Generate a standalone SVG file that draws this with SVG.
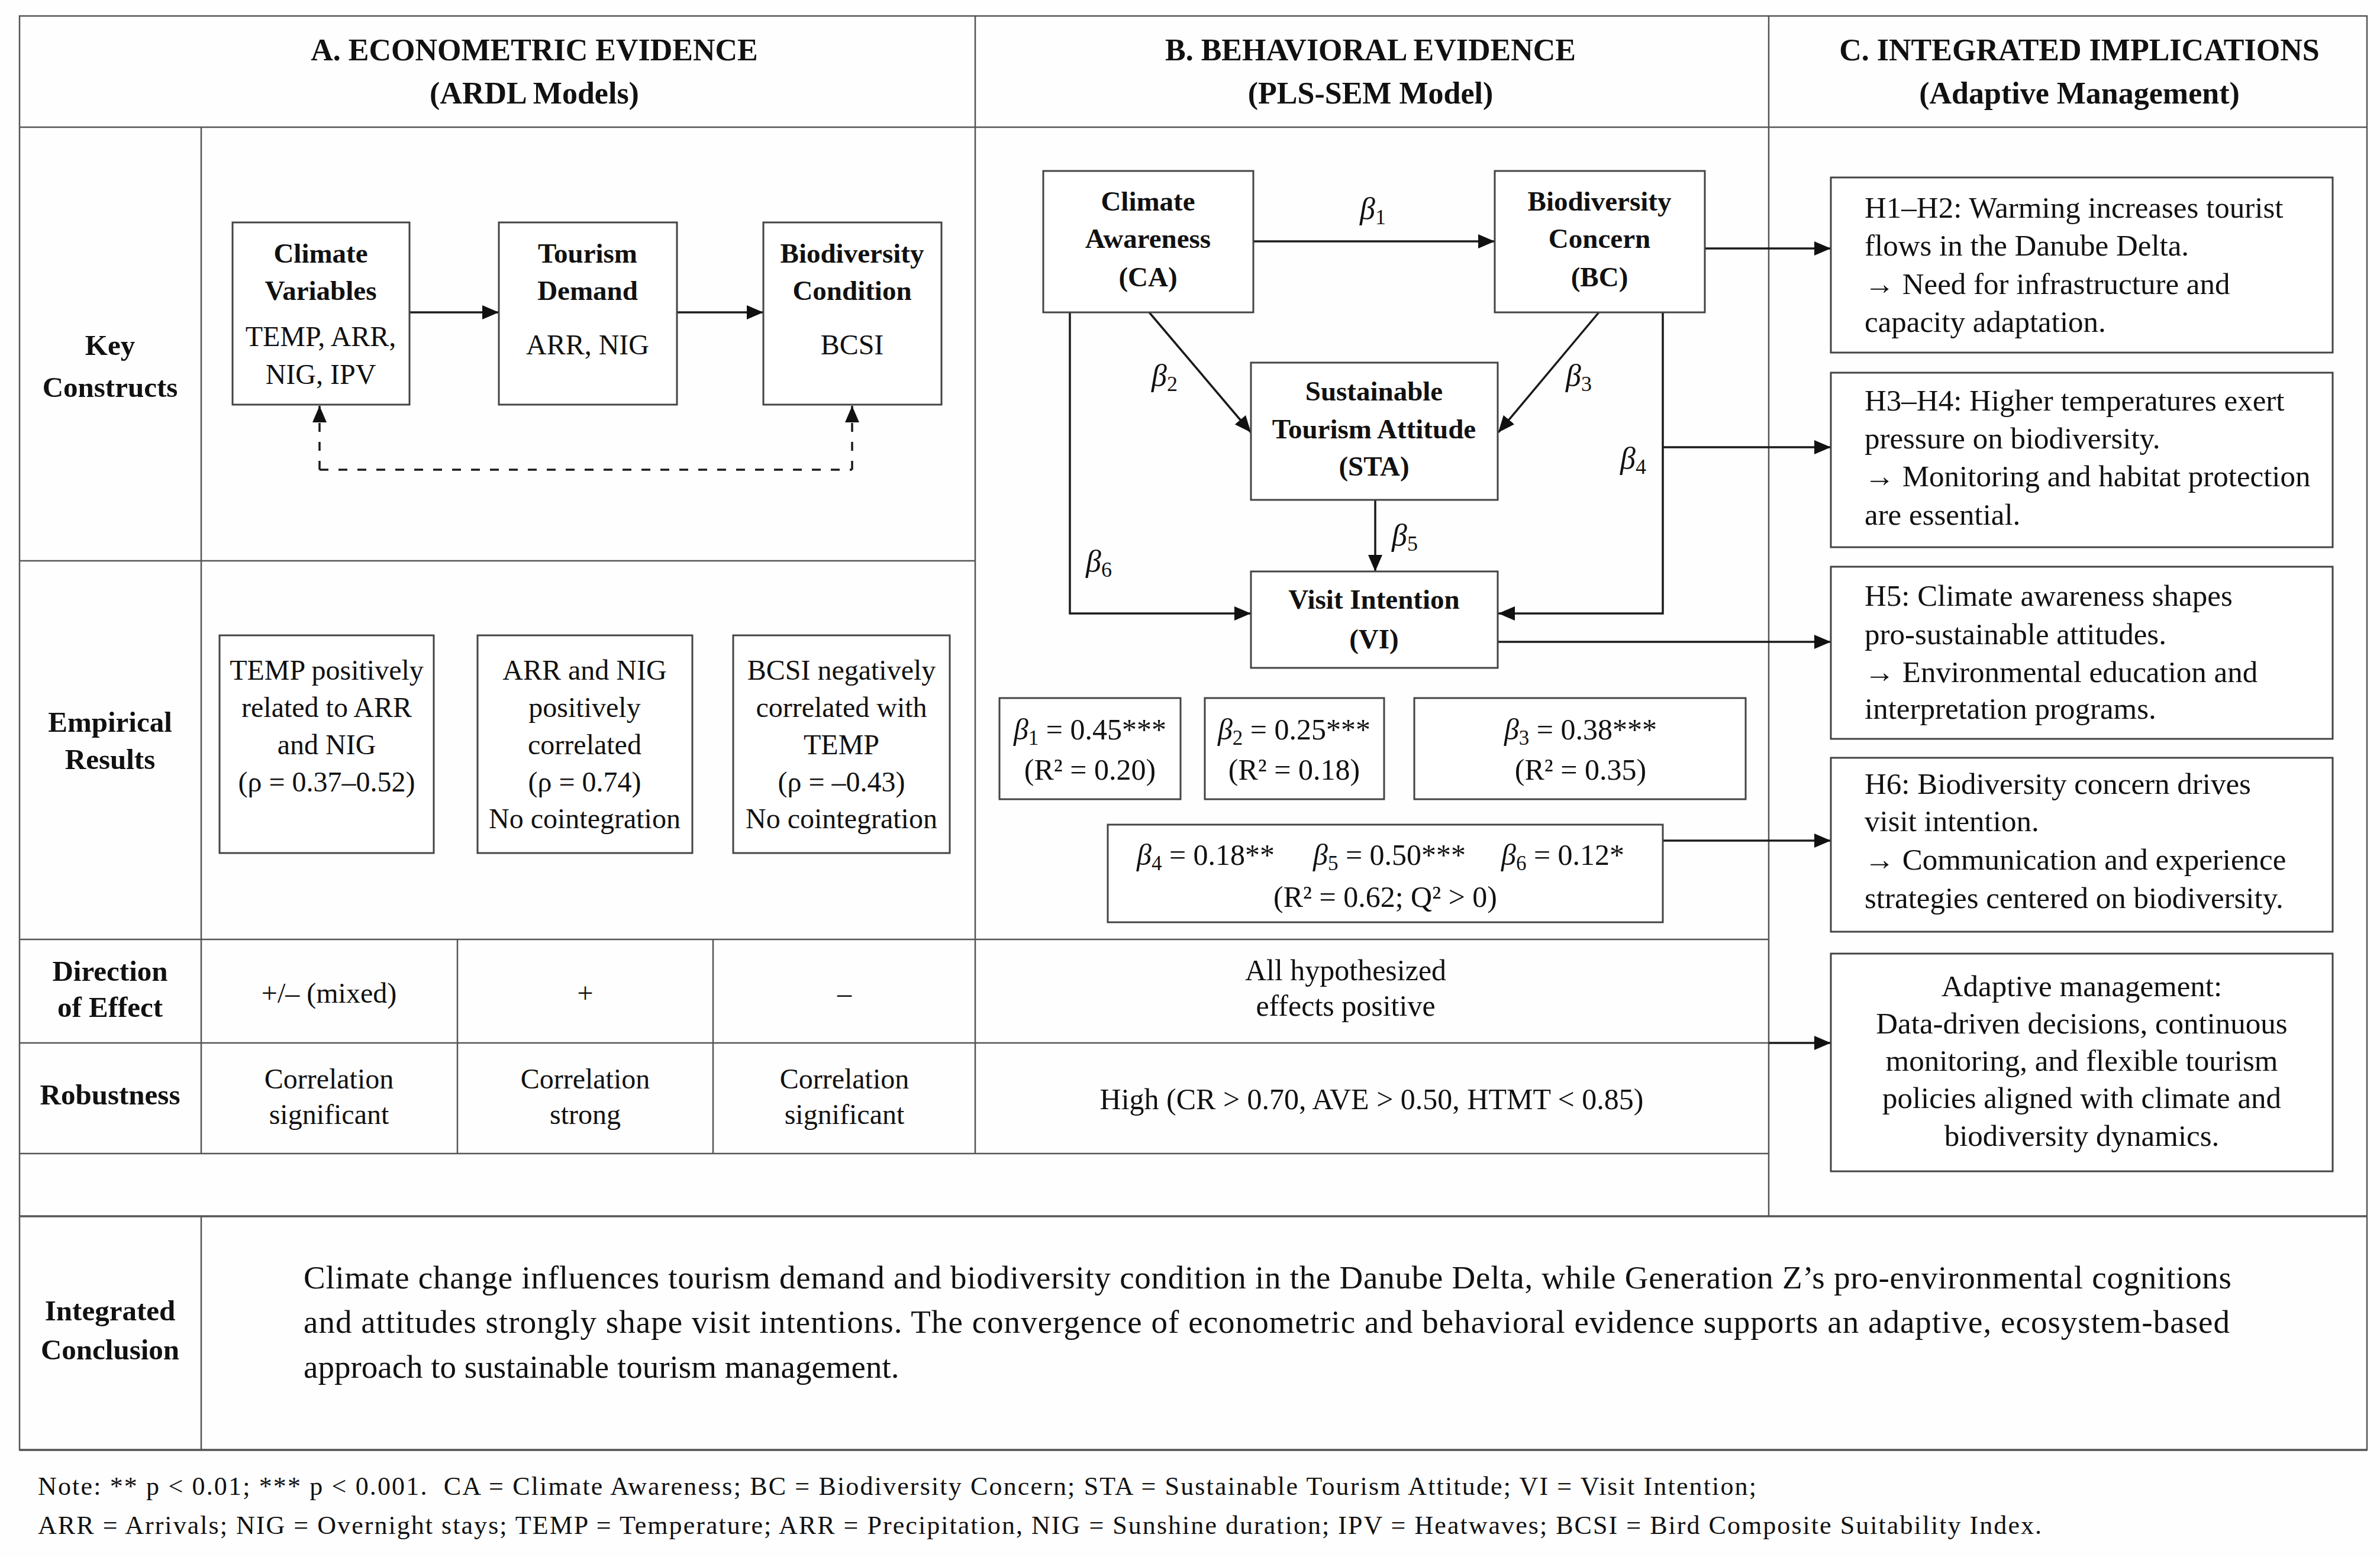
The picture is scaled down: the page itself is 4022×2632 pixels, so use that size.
<svg xmlns="http://www.w3.org/2000/svg" width="4022" height="2632" viewBox="0 0 4022 2632">
<style>
text{font-family:"Liberation Serif","Times New Roman",serif;fill:#111}
.tl{stroke:#555;stroke-width:2.5;fill:none}
.tk{stroke:#555;stroke-width:3.5;fill:none}
.box{fill:#fff;stroke:#444;stroke-width:3}
.conn{stroke:#1a1a1a;stroke-width:3.5;fill:none;marker-end:url(#ah)}
.dash{stroke:#1a1a1a;stroke-width:3.5;fill:none;stroke-dasharray:15 17}
.hd{font-weight:bold;font-size:52px;text-anchor:middle}
.lbl{font-weight:bold;font-size:49px;text-anchor:middle}
.nb{font-weight:bold;font-size:47px;text-anchor:middle}
.ta{font-size:48px;text-anchor:middle}
.tb{font-size:50px;text-anchor:middle}
.tc{font-size:51px}
.tcm{font-size:51px;text-anchor:middle}
.gk{font-style:italic}
.bl{font-size:52px;text-anchor:middle}
.note{font-size:44px}
.concl{font-size:55px}
</style>
<defs>
<marker id="ah" viewBox="0 0 28 24" refX="28" refY="12" markerWidth="28" markerHeight="24" markerUnits="userSpaceOnUse" orient="auto"><path d="M0,0 L28,12 L0,24 z" fill="#111"/></marker>
</defs>
<rect x="0" y="0" width="4022" height="2632" fill="#fefefe"/>

<g id="table">
<rect x="33" y="27" width="3967" height="2424" class="tl"/>
<path class="tl" d="M33,215 H4000 M1648,27 V1950 M2989,27 V2056 M340,215 V1950 M340,2056 V2451 M33,948 H1648 M33,1588 H2989 M33,1763 H2989 M33,1950 H2989 M773,1588 V1950 M1205,1588 V1950"/>
<path class="tk" d="M33,2056 H4000 M33,2451 H4000"/>
</g>

<g id="headers">
<text class="hd" x="903" y="102">A. ECONOMETRIC EVIDENCE</text>
<text class="hd" x="903" y="175">(ARDL Models)</text>
<text class="hd" x="2316" y="102">B. BEHAVIORAL EVIDENCE</text>
<text class="hd" x="2316" y="175">(PLS-SEM Model)</text>
<text class="hd" x="3514" y="102">C. INTEGRATED IMPLICATIONS</text>
<text class="hd" x="3514" y="175">(Adaptive Management)</text>
</g>

<g id="row-labels">
<text class="lbl" x="186" y="600">Key</text>
<text class="lbl" x="186" y="671">Constructs</text>
<text class="lbl" x="186" y="1237">Empirical</text>
<text class="lbl" x="186" y="1300">Results</text>
<text class="lbl" x="186" y="1658">Direction</text>
<text class="lbl" x="186" y="1719">of Effect</text>
<text class="lbl" x="186" y="1867">Robustness</text>
<text class="lbl" x="186" y="2232">Integrated</text>
<text class="lbl" x="186" y="2298">Conclusion</text>
</g>

<g id="connectors">
<path class="conn" d="M692,528 H843"/>
<path class="conn" d="M1144,528 H1290"/>
<path class="dash" d="M540,794 H1440"/>
<path class="dash" style="marker-end:url(#ah)" d="M540,794 V686"/>
<path class="dash" style="marker-end:url(#ah)" d="M1440,794 V686"/>
<path class="conn" d="M2118,408 H2526"/>
<path class="conn" d="M1942,528 L2114,731"/>
<path class="conn" d="M2702,528 L2532,731"/>
<path class="conn" d="M2324,845 V966"/>
<path class="conn" d="M1808,528 V1037 H2114"/>
<path class="conn" d="M2810,528 V1037 H2532"/>
<path class="conn" d="M2881,420 H3094"/>
<path class="conn" d="M2810,756 H3094"/>
<path class="conn" d="M2531,1085 H3094"/>
<path class="conn" d="M2810,1421 H3094"/>
<path class="conn" d="M2989,1763 H3094"/>
</g>

<g id="beta-labels">
<text class="bl" x="2320" y="370"><tspan class="gk">β</tspan><tspan font-size="36" dy="9">1</tspan></text>
<text class="bl" x="1968" y="652"><tspan class="gk">β</tspan><tspan font-size="36" dy="9">2</tspan></text>
<text class="bl" x="2668" y="652"><tspan class="gk">β</tspan><tspan font-size="36" dy="9">3</tspan></text>
<text class="bl" x="2760" y="792"><tspan class="gk">β</tspan><tspan font-size="36" dy="9">4</tspan></text>
<text class="bl" x="2374" y="922"><tspan class="gk">β</tspan><tspan font-size="36" dy="9">5</tspan></text>
<text class="bl" x="1857" y="966"><tspan class="gk">β</tspan><tspan font-size="36" dy="9">6</tspan></text>
</g>

<g id="node-climate-variables">
<rect class="box" x="393" y="376" width="299" height="308"/>
<text class="nb" x="542" y="444">Climate</text>
<text class="nb" x="542" y="507">Variables</text>
<text class="ta" x="542" y="585">TEMP, ARR,</text>
<text class="ta" x="542" y="649">NIG, IPV</text>
</g>
<g id="node-tourism-demand">
<rect class="box" x="843" y="376" width="301" height="308"/>
<text class="nb" x="993" y="444">Tourism</text>
<text class="nb" x="993" y="507">Demand</text>
<text class="ta" x="993" y="599">ARR, NIG</text>
</g>
<g id="node-biodiversity-condition">
<rect class="box" x="1290" y="376" width="301" height="308"/>
<text class="nb" x="1440" y="444">Biodiversity</text>
<text class="nb" x="1440" y="507">Condition</text>
<text class="ta" x="1440" y="599">BCSI</text>
</g>

<g id="result-temp">
<rect class="box" x="371" y="1074" width="362" height="368"/>
<text class="ta" x="552" y="1149">TEMP positively</text>
<text class="ta" x="552" y="1212">related to ARR</text>
<text class="ta" x="552" y="1275">and NIG</text>
<text class="ta" x="552" y="1338">(ρ = 0.37–0.52)</text>
</g>
<g id="result-arr-nig">
<rect class="box" x="807" y="1074" width="363" height="368"/>
<text class="ta" x="988" y="1149">ARR and NIG</text>
<text class="ta" x="988" y="1212">positively</text>
<text class="ta" x="988" y="1275">correlated</text>
<text class="ta" x="988" y="1338">(ρ = 0.74)</text>
<text class="ta" x="988" y="1400">No cointegration</text>
</g>
<g id="result-bcsi">
<rect class="box" x="1239" y="1074" width="366" height="368"/>
<text class="ta" x="1422" y="1149">BCSI negatively</text>
<text class="ta" x="1422" y="1212">correlated with</text>
<text class="ta" x="1422" y="1275">TEMP</text>
<text class="ta" x="1422" y="1338">(ρ = –0.43)</text>
<text class="ta" x="1422" y="1400">No cointegration</text>
</g>

<g id="cells-a">
<text class="ta" x="556" y="1695">+/– (mixed)</text>
<text class="ta" x="989" y="1695">+</text>
<text class="ta" x="1427" y="1695">–</text>
<text class="ta" x="556" y="1840">Correlation</text>
<text class="ta" x="556" y="1900">significant</text>
<text class="ta" x="989" y="1840">Correlation</text>
<text class="ta" x="989" y="1900">strong</text>
<text class="ta" x="1427" y="1840">Correlation</text>
<text class="ta" x="1427" y="1900">significant</text>
</g>

<g id="node-ca">
<rect class="box" x="1763" y="289" width="355" height="239"/>
<text class="nb" x="1940" y="356">Climate</text>
<text class="nb" x="1940" y="419">Awareness</text>
<text class="nb" x="1940" y="484">(CA)</text>
</g>
<g id="node-bc">
<rect class="box" x="2526" y="289" width="355" height="239"/>
<text class="nb" x="2703" y="356">Biodiversity</text>
<text class="nb" x="2703" y="419">Concern</text>
<text class="nb" x="2703" y="484">(BC)</text>
</g>
<g id="node-sta">
<rect class="box" x="2114" y="613" width="417" height="232"/>
<text class="nb" x="2322" y="677">Sustainable</text>
<text class="nb" x="2322" y="741">Tourism Attitude</text>
<text class="nb" x="2322" y="804">(STA)</text>
</g>
<g id="node-vi">
<rect class="box" x="2114" y="966" width="417" height="163"/>
<text class="nb" x="2322" y="1029">Visit Intention</text>
<text class="nb" x="2322" y="1096">(VI)</text>
</g>

<g id="coef-b1">
<rect class="box" x="1689" y="1180" width="306" height="171"/>
<text class="tb" x="1842" y="1250"><tspan class="gk">β</tspan><tspan font-size="35" dy="9">1</tspan><tspan dy="-9"> = 0.45***</tspan></text>
<text class="tb" x="1842" y="1318">(R² = 0.20)</text>
</g>
<g id="coef-b2">
<rect class="box" x="2036" y="1180" width="303" height="171"/>
<text class="tb" x="2187" y="1250"><tspan class="gk">β</tspan><tspan font-size="35" dy="9">2</tspan><tspan dy="-9"> = 0.25***</tspan></text>
<text class="tb" x="2187" y="1318">(R² = 0.18)</text>
</g>
<g id="coef-b3">
<rect class="box" x="2390" y="1180" width="560" height="171"/>
<text class="tb" x="2671" y="1250"><tspan class="gk">β</tspan><tspan font-size="35" dy="9">3</tspan><tspan dy="-9"> = 0.38***</tspan></text>
<text class="tb" x="2671" y="1318">(R² = 0.35)</text>
</g>
<g id="coef-b456">
<rect class="box" x="1872" y="1394" width="938" height="165"/>
<text class="tb" x="1921" y="1462" style="text-anchor:start"><tspan class="gk">β</tspan><tspan font-size="35" dy="9">4</tspan><tspan dy="-9"> = 0.18**</tspan></text>
<text class="tb" x="2219" y="1462" style="text-anchor:start"><tspan class="gk">β</tspan><tspan font-size="35" dy="9">5</tspan><tspan dy="-9"> = 0.50***</tspan></text>
<text class="tb" x="2537" y="1462" style="text-anchor:start"><tspan class="gk">β</tspan><tspan font-size="35" dy="9">6</tspan><tspan dy="-9"> = 0.12*</tspan></text>
<text class="tb" x="2341" y="1533">(R² = 0.62; Q² &gt; 0)</text>
</g>

<g id="cells-b">
<text class="tb" x="2274" y="1657">All hypothesized</text>
<text class="tb" x="2274" y="1717">effects positive</text>
<text class="tb" x="2318" y="1875">High (CR &gt; 0.70, AVE &gt; 0.50, HTMT &lt; 0.85)</text>
</g>

<g id="impl-h1-h2">
<rect class="box" x="3094" y="300" width="848" height="296"/>
<text class="tc" x="3151" y="368">H1–H2: Warming increases tourist</text>
<text class="tc" x="3151" y="432">flows in the Danube Delta.</text>
<text class="tc" x="3151" y="497">→ Need for infrastructure and</text>
<text class="tc" x="3151" y="561">capacity adaptation.</text>
</g>
<g id="impl-h3-h4">
<rect class="box" x="3094" y="630" width="848" height="295"/>
<text class="tc" x="3151" y="694">H3–H4: Higher temperatures exert</text>
<text class="tc" x="3151" y="758">pressure on biodiversity.</text>
<text class="tc" x="3151" y="822">→ Monitoring and habitat protection</text>
<text class="tc" x="3151" y="887">are essential.</text>
</g>
<g id="impl-h5">
<rect class="box" x="3094" y="958" width="848" height="291"/>
<text class="tc" x="3151" y="1024">H5: Climate awareness shapes</text>
<text class="tc" x="3151" y="1089">pro-sustainable attitudes.</text>
<text class="tc" x="3151" y="1153">→ Environmental education and</text>
<text class="tc" x="3151" y="1215">interpretation programs.</text>
</g>
<g id="impl-h6">
<rect class="box" x="3094" y="1281" width="848" height="294"/>
<text class="tc" x="3151" y="1342">H6: Biodiversity concern drives</text>
<text class="tc" x="3151" y="1405">visit intention.</text>
<text class="tc" x="3151" y="1470">→ Communication and experience</text>
<text class="tc" x="3151" y="1535">strategies centered on biodiversity.</text>
</g>
<g id="impl-adaptive">
<rect class="box" x="3094" y="1612" width="848" height="368"/>
<text class="tcm" x="3518" y="1684">Adaptive management:</text>
<text class="tcm" x="3518" y="1747">Data-driven decisions, continuous</text>
<text class="tcm" x="3518" y="1810">monitoring, and flexible tourism</text>
<text class="tcm" x="3518" y="1873">policies aligned with climate and</text>
<text class="tcm" x="3518" y="1937">biodiversity dynamics.</text>
</g>

<g id="conclusion">
<text class="concl" x="513" y="2178" textLength="3258" lengthAdjust="spacing">Climate change influences tourism demand and biodiversity condition in the Danube Delta, while Generation Z’s pro-environmental cognitions</text>
<text class="concl" x="513" y="2253" textLength="3255" lengthAdjust="spacing">and attitudes strongly shape visit intentions. The convergence of econometric and behavioral evidence supports an adaptive, ecosystem-based</text>
<text class="concl" x="513" y="2329">approach to sustainable tourism management.</text>
</g>

<g id="note">
<text class="note" x="64" y="2527" textLength="2904" lengthAdjust="spacing" xml:space="preserve">Note: ** p &lt; 0.01; *** p &lt; 0.001.  CA = Climate Awareness; BC = Biodiversity Concern; STA = Sustainable Tourism Attitude; VI = Visit Intention;</text>
<text class="note" x="64" y="2593" textLength="3386" lengthAdjust="spacing">ARR = Arrivals; NIG = Overnight stays; TEMP = Temperature; ARR = Precipitation, NIG = Sunshine duration; IPV = Heatwaves; BCSI = Bird Composite Suitability Index.</text>
</g>
</svg>
